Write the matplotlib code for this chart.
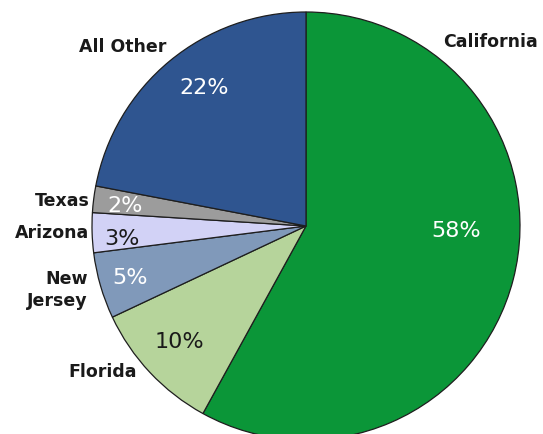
import matplotlib.pyplot as plt

# share of the total by state, clockwise from 12 o'clock
states = ['California', 'Florida', 'New Jersey', 'Arizona', 'Texas', 'All Other']
shares = [58, 10, 5, 3, 2, 22]
colors = ['#0b9638', '#b6d49b', '#8099ba', '#d2d2f6', '#9c9c9c', '#2f5590']
pct_colors = ['white', '#1a1a1a', 'white', '#1a1a1a', 'white', 'white']

# where each name and percentage sits (pixels, y measured from the top)
name_pos = [(490, 42, 'center'), (103, 372, 'center'), (88, 290, 'right'),
            (89, 233, 'right'), (90, 201, 'right'), (123, 47, 'center')]
name_text = ['California', 'Florida', 'New\nJersey', 'Arizona', 'Texas', 'All Other']
pct_pos = [(456, 231), (179, 342), (130, 278), (122, 239), (125, 206), (204, 88)]

W, H = 543, 435
fig = plt.figure(figsize=(W / 100, H / 100), dpi=100)
ax = fig.add_axes([0, 0, 1, 1])

ax.pie(shares, colors=colors, startangle=90, counterclock=False,
       center=(306, H - 227), radius=214, frame=True,
       wedgeprops=dict(edgecolor='#1e1e1e', linewidth=0.9))
ax.set_xlim(0, W)
ax.set_ylim(0, H)
ax.set_aspect('equal')
ax.axis('off')

for (x, y, ha), txt in zip(name_pos, name_text):
    ax.text(x, H - y, txt, ha=ha, va='center', fontsize=12.5,
            fontweight='bold', family='DejaVu Sans', color='#1a1a1a',
            linespacing=1.3)

for (x, y), v, c in zip(pct_pos, shares, pct_colors):
    ax.text(x, H - y, f'{v}%', ha='center', va='center', fontsize=16,
            family='DejaVu Sans', color=c)

fig.savefig('out.png', dpi=100)
